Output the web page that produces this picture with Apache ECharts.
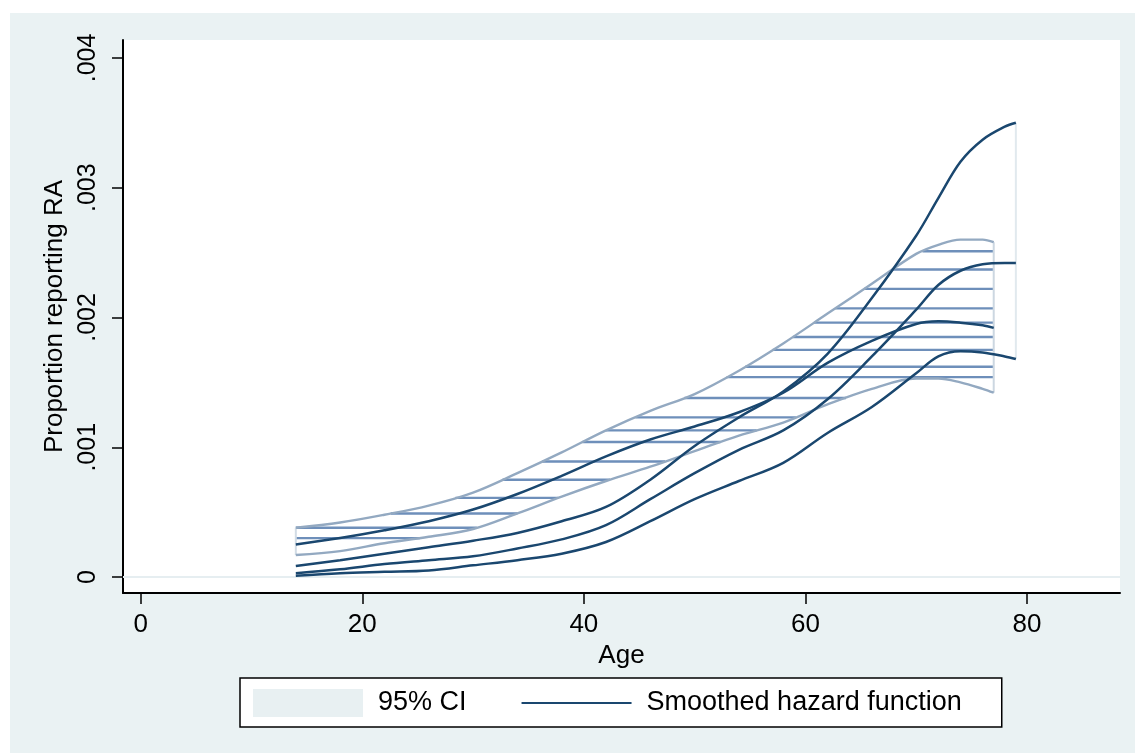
<!DOCTYPE html>
<html><head><meta charset="utf-8">
<script src="https://cdn.jsdelivr.net/npm/echarts@6/dist/echarts.min.js"></script>
<style>html,body{margin:0;padding:0;background:#fff;} #c{width:1135px;height:753px;}</style>
</head><body><div id="c"></div>
<script>
// Ages (years) for the CI band and its central hazard estimate
const ageBand = [14,18,22,26,30,34,38,42,46,50,54,58,62,66,70,72,74,76,77];
const ciUpper = [0.00038,0.00042,0.00048,0.00055,0.00065,0.00080,0.00096,0.00113,0.00128,0.00141,0.00159,0.00180,0.00203,0.00226,0.00249,0.00256,0.00260,0.00260,0.00258];
const ciLower = [0.00017,0.00020,0.00026,0.00031,0.00037,0.00049,0.00062,0.00074,0.00085,0.00097,0.00109,0.00119,0.00133,0.00145,0.00153,0.00153,0.00150,0.00145,0.00142];
const hazardBand = [0.00025,0.00030,0.00036,0.00043,0.00052,0.00064,0.00078,0.00093,0.00106,0.00116,0.00127,0.00142,0.00165,0.00182,0.00195,0.00197,0.00196,0.00194,0.00192];

// Second smoothed hazard curve with its bounds
const ageAlt = [14,18,22,26,30,34,38,42,46,50,54,58,62,66,70,72,74,76,78,79];
const altUpper = [0.000085,0.00013,0.00018,0.00023,0.00028,0.00034,0.00043,0.00054,0.00075,0.00101,0.00123,0.00143,0.00172,0.00215,0.00263,0.00292,0.00320,0.00337,0.00347,0.00350];
const altMid = [0.00003,0.00006,0.00010,0.00013,0.00016,0.00022,0.00029,0.00040,0.00060,0.00080,0.00098,0.00113,0.00137,0.00170,0.00206,0.00225,0.00236,0.00241,0.00242,0.00242];
const altLower = [0.00001,0.00003,0.00004,0.00005,0.00009,0.00013,0.00018,0.00027,0.00043,0.00060,0.00074,0.00088,0.00111,0.00131,0.00157,0.00170,0.00174,0.00173,0.00170,0.00168];

// Levels of the horizontal shading lines inside the CI band
const hatchLevels = [0.00030,0.00038,0.00049,0.00061,0.00075,0.00089,0.00104,0.00113,0.00123,0.00138,0.00154,0.00162,0.00175,0.00185,0.00196,0.00207,0.00222,0.00237,0.00251];

const xTicks = [0,20,40,60,80];
const yTicks = [0,0.001,0.002,0.003,0.004];
const yTickLabels = ['0','.001','.002','.003','.004'];

const FONT = 'Liberation Sans, Arial, sans-serif';
const NAVY = '#1A476F';
const BAND_EDGE = '#93A9C1';
const HATCH = '#6E8FBA';

function pairs(xs, ys){ return xs.map((x,i)=>[x, ys[i]]); }
function crossing(xs, ys, lvl){
  if (ys[0] >= lvl) return xs[0];
  for (let i=1;i<xs.length;i++){
    if (ys[i] >= lvl && ys[i-1] < lvl){
      const t = (lvl - ys[i-1])/(ys[i]-ys[i-1]);
      return xs[i-1] + t*(xs[i]-xs[i-1]);
    }
  }
  return null;
}
const hatchData = [];
hatchLevels.forEach(l=>{
  const s = crossing(ageBand, ciUpper, l);
  if (s === null) return;
  let e = crossing(ageBand, ciLower, l);
  if (e === null) e = ageBand[ageBand.length-1];
  hatchData.push([s,l],[e,l],null);
});

const last = ageBand.length-1, lastA = ageAlt.length-1;
const SMOOTH = 0.35;

const chart = echarts.init(document.getElementById('c'));
const darkLine = (d)=>({name:'Smoothed hazard function', type:'line', data:d, smooth:SMOOTH, symbol:'none', z:5,
  lineStyle:{color:NAVY,width:2.5}, itemStyle:{color:NAVY}});
chart.setOption({
  animation:false,
  backgroundColor:'#ffffff',
  graphic:[{type:'rect', z:-10, shape:{x:10,y:13,width:1125,height:740}, style:{fill:'#EAF2F3'}}],
  grid:{left:123, right:15, top:40, bottom:160, show:true, backgroundColor:'#ffffff', borderWidth:0},
  xAxis:{type:'value', min:-1.6, max:88.4, name:'Age', nameLocation:'middle', nameGap:37,
    nameTextStyle:{fontFamily:FONT, fontSize:26, color:'#000'},
    axisLine:{onZero:false, lineStyle:{color:'#000', width:2}},
    axisTick:{customValues:xTicks, length:11, lineStyle:{color:'#000', width:1.5}},
    axisLabel:{customValues:xTicks, fontFamily:FONT, fontSize:26, color:'#000', margin:19},
    splitLine:{show:false}},
  yAxis:{type:'value', min:-0.000123, max:0.004138, name:'Proportion reporting RA', nameLocation:'middle', nameGap:47,
    nameTextStyle:{fontFamily:FONT, fontSize:26, color:'#000'},
    axisLine:{onZero:false, lineStyle:{color:'#000', width:2}},
    axisTick:{customValues:yTicks, length:11, lineStyle:{color:'#000', width:1.5}},
    axisLabel:{customValues:yTicks, rotate:90, fontFamily:FONT, fontSize:25, color:'#000', margin:22,
      formatter:(v)=>{const i = yTicks.findIndex(t=>Math.abs(t-v)<1e-9); return i>=0 ? yTickLabels[i] : '';}},
    splitLine:{show:false}},
  legend:{left:240, top:678, orient:'horizontal', itemWidth:110, itemHeight:28, itemGap:54,
    padding:[11,40,10,13], backgroundColor:'#fff', borderColor:'#000', borderWidth:1.5, borderRadius:0,
    textStyle:{fontFamily:FONT, fontSize:27, color:'#000', padding:[4,0,0,10]},
    data:[{name:'95% CI', icon:'rect', itemStyle:{color:'#E8F0F2', borderWidth:0}},
          {name:'Smoothed hazard function', itemStyle:{opacity:0}, lineStyle:{color:NAVY, width:2}}]},
  series:[
    {name:'grid', type:'line', data:[], z:0, silent:true,
      markLine:{silent:true, symbol:'none', label:{show:false}, animation:false,
        lineStyle:{color:'#E6EEF1', width:2, type:'solid'},
        data: yTicks.map(v=>({yAxis:v}))}},
    {name:'95% CI', type:'line', data:hatchData, symbol:'none', z:2, connectNulls:false,
      lineStyle:{color:HATCH, width:2.4}, itemStyle:{color:'#E8F0F2'}},
    {name:'95% CI', type:'line', data:[[ageBand[0],ciLower[0]],[ageBand[0],ciUpper[0]]], symbol:'none', z:2,
      lineStyle:{color:'#D2DCE5', width:2}, itemStyle:{color:'#E8F0F2'}},
    {name:'95% CI', type:'line', data:[[ageBand[last],ciLower[last]],[ageBand[last],ciUpper[last]]], symbol:'none', z:2,
      lineStyle:{color:'#CCD7E1', width:2}, itemStyle:{color:'#E8F0F2'}},
    {name:'95% CI', type:'line', data:[[ageAlt[lastA],altLower[lastA]],[ageAlt[lastA],altUpper[lastA]]], symbol:'none', z:2,
      lineStyle:{color:'#E1E9EE', width:2}, itemStyle:{color:'#E8F0F2'}},
    {name:'95% CI', type:'line', data:pairs(ageBand,ciUpper), smooth:SMOOTH, symbol:'none', z:3,
      lineStyle:{color:BAND_EDGE, width:2.4}, itemStyle:{color:'#E8F0F2'}},
    {name:'95% CI', type:'line', data:pairs(ageBand,ciLower), smooth:SMOOTH, symbol:'none', z:3,
      lineStyle:{color:BAND_EDGE, width:2.4}, itemStyle:{color:'#E8F0F2'}},
    darkLine(pairs(ageBand,hazardBand)),
    darkLine(pairs(ageAlt,altUpper)),
    darkLine(pairs(ageAlt,altMid)),
    darkLine(pairs(ageAlt,altLower))
  ]
});
</script></body></html>
